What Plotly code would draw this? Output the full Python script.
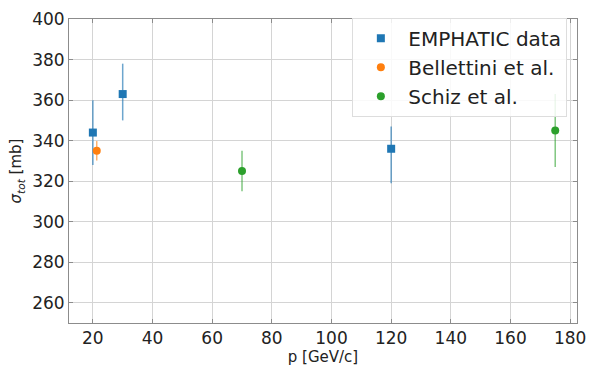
import plotly.graph_objects as go

# EMPHATIC data
emp_p = [20, 30, 120]
emp_sigma = [344, 363, 336]
emp_err_up = [16, 15, 11]
emp_err_dn = [16, 13, 17]

# Bellettini et al.
bel_p = [21.3]
bel_sigma = [335]
bel_err = [4.8]

# Schiz et al.
sch_p = [70, 175]
sch_sigma = [325, 345]
sch_err = [10, 18]

x_ticks = [20, 40, 60, 80, 100, 120, 140, 160, 180]
y_ticks = [260, 280, 300, 320, 340, 360, 380, 400]

FONT = "DejaVu Sans"
fig = go.Figure()

fig.add_trace(go.Scatter(
    x=emp_p, y=emp_sigma, mode="markers", name="EMPHATIC data",
    marker=dict(symbol="square", size=8, color="#1f77b4"),
    error_y=dict(type="data", symmetric=False, array=emp_err_up, arrayminus=emp_err_dn,
                 color="rgba(31,119,180,0.65)", thickness=1.5, width=0),
))
fig.add_trace(go.Scatter(
    x=bel_p, y=bel_sigma, mode="markers", name="Bellettini et al.",
    marker=dict(symbol="circle", size=8, color="#ff7f0e"),
    error_y=dict(type="data", array=bel_err, color="rgba(255,127,14,0.6)", thickness=1.5, width=0),
))
fig.add_trace(go.Scatter(
    x=sch_p, y=sch_sigma, mode="markers", name="Schiz et al.",
    marker=dict(symbol="circle", size=8, color="#2ca02c"),
    error_y=dict(type="data", array=sch_err, color="rgba(44,160,44,0.6)", thickness=1.5, width=0),
))

axis_common = dict(
    showgrid=True, gridcolor="#d4d4d4", gridwidth=1,
    showline=True, linecolor="#8c8c8c", linewidth=1, mirror="ticks",
    ticks="inside", ticklen=4, tickcolor="#8c8c8c",
    tickfont=dict(family=FONT, size=17, color="#222"),
    zeroline=False,
)

fig.update_xaxes(
    range=[12.0, 182.3], tickvals=x_ticks, ticktext=[str(v) for v in x_ticks],
    title=dict(text="p [GeV/c]", font=dict(family=FONT, size=15, color="#222"), standoff=4),
    **axis_common,
)
fig.update_yaxes(
    range=[250, 400.05], tickvals=y_ticks, ticktext=[str(v) for v in y_ticks],
    title=dict(text="<i>σ</i><sub><i>tot</i></sub> [mb]", font=dict(family=FONT, size=15, color="#222"), standoff=6),
    **axis_common,
)

fig.update_layout(
    width=595, height=372,
    margin=dict(l=69, r=12, t=9, b=49),
    paper_bgcolor="white", plot_bgcolor="white",
    font=dict(family=FONT, color="#222"),
    legend=dict(
        x=0.981, y=1.004, xanchor="right", yanchor="top",
        bgcolor="rgba(255,255,255,0.85)", bordercolor="#dddddd", borderwidth=1,
        font=dict(family=FONT, size=20, color="#222"),
        itemwidth=45, tracegroupgap=0,
    ),
    showlegend=True,
)

fig.write_html("out.html")
